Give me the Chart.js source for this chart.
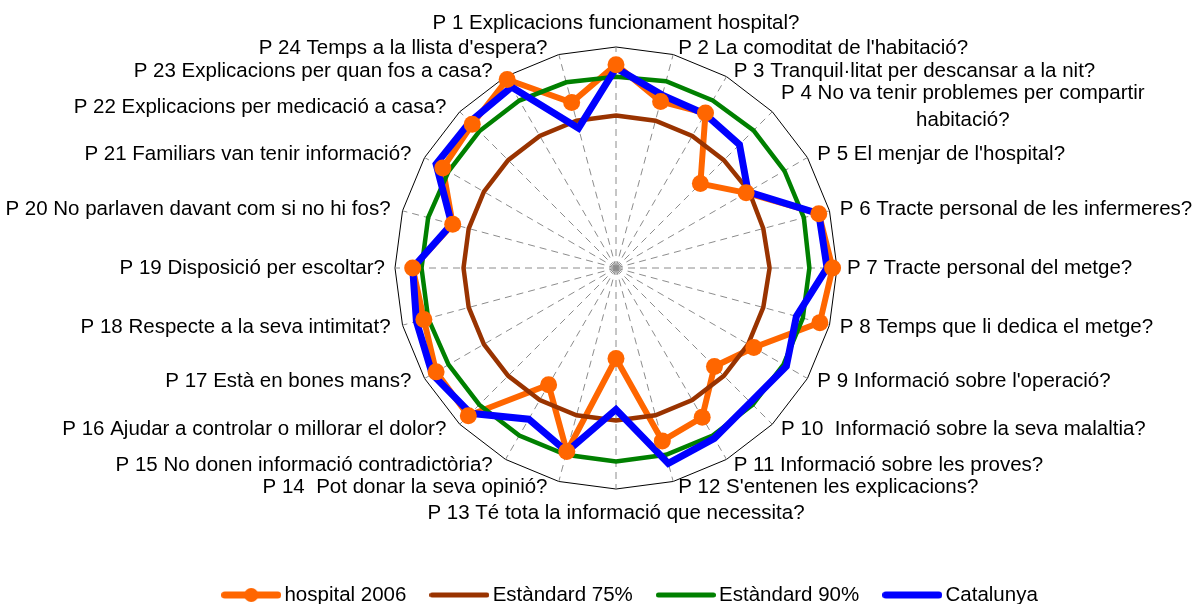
<!DOCTYPE html>
<html>
<head>
<meta charset="utf-8">
<script src="https://cdn.jsdelivr.net/npm/chart.js@4.4.1/dist/chart.umd.min.js"></script>
<style>
  html, body { margin: 0; padding: 0; background: #fff; overflow: hidden; }
  canvas { display: block; }
</style>
</head>
<body>
<canvas id="radar" width="1196" height="604"></canvas>
<script>
// question labels (P 4 wraps on two lines like the original)
const questions = [
  "P 1 Explicacions funcionament hospital?",
  "P 2 La comoditat de l'habitació?",
  "P 3 Tranquil·litat per descansar a la nit?",
  ["P 4 No va tenir problemes per compartir", "habitació?"],
  "P 5 El menjar de l'hospital?",
  "P 6 Tracte personal de les infermeres?",
  "P 7 Tracte personal del metge?",
  "P 8 Temps que li dedica el metge?",
  "P 9 Informació sobre l'operació?",
  "P 10  Informació sobre la seva malaltia?",
  "P 11 Informació sobre les proves?",
  "P 12 S'entenen les explicacions?",
  "P 13 Té tota la informació que necessita?",
  "P 14  Pot donar la seva opinió?",
  "P 15 No donen informació contradictòria?",
  "P 16 Ajudar a controlar o millorar el dolor?",
  "P 17 Està en bones mans?",
  "P 18 Respecte a la seva intimitat?",
  "P 19 Disposició per escoltar?",
  "P 20 No parlaven davant com si no hi fos?",
  "P 21 Familiars van tenir informació?",
  "P 22 Explicacions per medicació a casa?",
  "P 23 Explicacions per quan fos a casa?",
  "P 24 Temps a la llista d'espera?"
];

const seriesNames = ["hospital 2006", "Estàndard 75%", "Estàndard 90%", "Catalunya"];

const hospital2006 = [92, 78, 81, 54, 68, 95, 98, 95.5, 72, 63, 78, 81, 41, 86, 61, 94.5, 94, 90, 92, 76.5, 90.5, 92, 98.5, 77.5];
const estandard75  = [69, 69, 69, 69, 69.5, 69, 69.5, 69, 69, 69, 69, 69, 69, 69, 69, 69, 69, 69, 69, 69, 69, 69, 69, 69];
const estandard90  = [86.5, 87.5, 87.5, 88, 88, 88, 87.5, 87.5, 87.5, 87.5, 87.5, 87.5, 87.5, 87.5, 87.5, 87.5, 87.5, 88, 88, 88, 87.5, 87.5, 87.5, 87];
const catalunya    = [90.5, 81, 80.5, 79, 69, 95, 95.5, 84.5, 89, 86, 89, 91.5, 64, 86, 79, 93, 96, 93.5, 92, 77, 94, 93.5, 94.5, 65.5];

const scaleMin = 0;
const scaleMax = 100;

const ORANGE = '#FF6600';
const BROWN = '#993300';
const GREEN = '#008000';
const BLUE = '#0000FF';
const FONT = '"Liberation Sans", Arial, sans-serif';

// small line icons for the legend (line + optional marker)
function makeIcon(color, width, marker) {
  const c = document.createElement('canvas');
  c.width = 60; c.height = 18;
  const g = c.getContext('2d');
  g.strokeStyle = color;
  g.lineWidth = width;
  g.lineCap = 'round';
  g.beginPath();
  g.moveTo(width / 2, 9);
  g.lineTo(60 - width / 2, 9);
  g.stroke();
  if (marker) {
    g.fillStyle = color;
    g.beginPath();
    g.arc(30, 9, 7, 0, Math.PI * 2);
    g.fill();
  }
  return c;
}
const legendIcons = [
  makeIcon(ORANGE, 7, true),
  makeIcon(BROWN, 5, false),
  makeIcon(GREEN, 5, false),
  makeIcon(BLUE, 7, false)
];

// draws the question labels around the polygon
const questionLabels = {
  id: 'questionLabels',
  afterDraw(chart) {
    const scale = chart.scales.r;
    const ctx = chart.ctx;
    const R = scale.drawingArea;
    ctx.save();
    ctx.font = '20.5px ' + FONT;
    ctx.fillStyle = '#000';
    ctx.textBaseline = 'middle';
    ctx.textAlign = 'center';
    questions.forEach((q, i) => {
      const lines = Array.isArray(q) ? q : [q];
      const a = scale.getIndexAngle(i) - Math.PI / 2;
      const cs = Math.cos(a), sn = Math.sin(a);
      let x, y, cx;
      const blockW = Math.max(...lines.map(t => ctx.measureText(t).width));
      if (Math.abs(cs) < 0.01) {
        const p = scale.getPointPosition(i, R + 24);
        x = p.x; y = p.y; cx = x;
      } else {
        const p = scale.getPointPosition(i, R + 10);
        y = p.y - 3.5 * sn;
        if (cs > 0) {
          x = p.x + 2.5 * Math.abs(sn);
          cx = x + blockW / 2;
        } else {
          x = p.x - 9 * Math.abs(sn);
          cx = x - blockW / 2;
        }
      }
      lines.forEach((t, k) => {
        ctx.fillText(t, cx, y + (k - (lines.length - 1) / 2) * 27);
      });
    });
    ctx.restore();
  }
};

new Chart(document.getElementById('radar'), {
  type: 'radar',
  data: {
    labels: questions,
    datasets: [
      {
        label: seriesNames[0],
        data: hospital2006,
        borderColor: ORANGE,
        borderWidth: 6,
        pointRadius: 0,
        fill: false,
        order: 4
      },
      {
        label: seriesNames[1],
        data: estandard75,
        borderColor: BROWN,
        borderWidth: 4.5,
        pointRadius: 0,
        fill: false,
        order: 3
      },
      {
        label: seriesNames[2],
        data: estandard90,
        borderColor: GREEN,
        borderWidth: 4.5,
        pointRadius: 0,
        fill: false,
        order: 2
      },
      {
        label: seriesNames[3],
        data: catalunya,
        borderColor: BLUE,
        borderWidth: 7,
        pointRadius: 0,
        fill: false,
        order: 1
      },
      {
        // markers of hospital 2006 drawn on top of every line
        label: seriesNames[0] + ' markers',
        data: hospital2006,
        showLine: false,
        fill: false,
        backgroundColor: 'transparent',
        borderColor: ORANGE,
        pointRadius: 8.5,
        pointBorderWidth: 0,
        pointBackgroundColor: ORANGE,
        pointBorderColor: ORANGE,
        order: 0
      }
    ]
  },
  options: {
    responsive: false,
    animation: false,
    devicePixelRatio: 1,
    layout: {
      padding: { left: 70, right: 0, top: 47, bottom: -11.25 }
    },
    elements: { line: { tension: 0 } },
    scales: {
      r: {
        min: scaleMin,
        max: scaleMax,
        ticks: { display: false, stepSize: 100 },
        pointLabels: { display: false },
        grid: { circular: false, color: '#000', lineWidth: 1 },
        angleLines: { display: true, color: '#8c8c8c', lineWidth: 1, borderDash: [7, 5] }
      }
    },
    plugins: {
      tooltip: { enabled: false },
      subtitle: {
        display: true,
        position: 'right',
        fullSize: false,
        text: ' ',
        font: { size: 1 },
        padding: { top: 15.9, bottom: 15.9 }
      },
      legend: {
        position: 'bottom',
        title: {
          display: true,
          text: ' ',
          font: { size: 1 },
          padding: { top: 64.55, bottom: 0 }
        },
        labels: {
          color: '#000',
          font: { family: FONT, size: 20.5 },
          usePointStyle: true,
          pointStyleWidth: 46,
          padding: 30,
          generateLabels(chart) {
            const items = Chart.defaults.plugins.legend.labels.generateLabels(chart);
            return items
              .filter(it => it.datasetIndex < 4)
              .sort((a, b) => a.datasetIndex - b.datasetIndex)
              .map(it => Object.assign(it, { pointStyle: legendIcons[it.datasetIndex] }));
          }
        }
      }
    }
  },
  plugins: [questionLabels]
});
</script>
</body>
</html>
